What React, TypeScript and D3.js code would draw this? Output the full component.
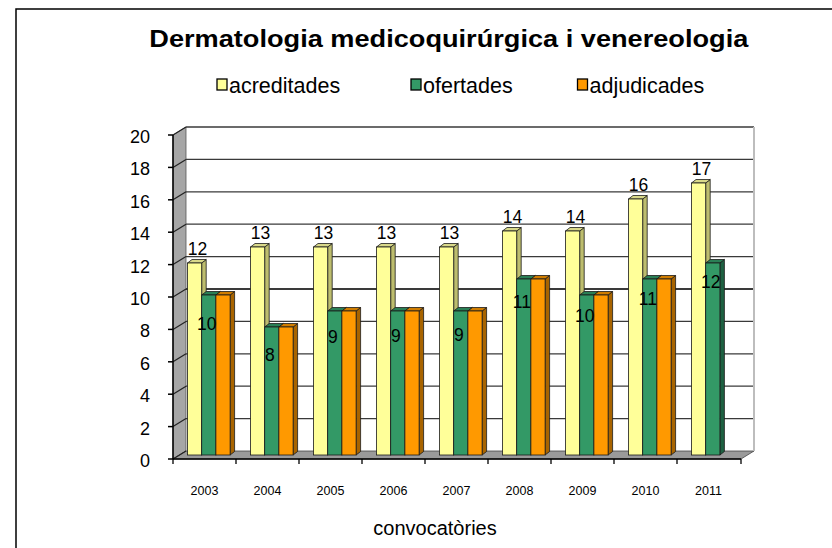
import React from "react";
import * as d3 from "d3";

const years = ["2003", "2004", "2005", "2006", "2007", "2008", "2009", "2010", "2011"];
const acreditades = [12, 13, 13, 13, 13, 14, 14, 16, 17];
const ofertades = [10, 8, 9, 9, 9, 11, 10, 11, 12];
const adjudicades: (number | null)[] = [10, 8, 9, 9, 9, 11, 10, 11, null];
const seriesNames = ["acreditades", "ofertades", "adjudicades"];
const yTicks = [0, 2, 4, 6, 8, 10, 12, 14, 16, 18, 20];

const FONT = "'Liberation Sans', Arial, sans-serif";

const palette = [
  { front: "#FFFF99", side: "#BDBD6E", top: "#D9D98A" },
  { front: "#339966", side: "#1E6142", top: "#2A7F55" },
  { front: "#FF9900", side: "#A86400", top: "#D07D00" },
];

export default function App() {
  const W = 832;
  const H = 548;
  const x = d3.scaleBand<string>().domain(years).range([173, 740]).paddingInner(0).paddingOuter(0);
  const yFront = d3.scaleLinear().domain([0, 20]).range([459, 135]);
  const yBack = d3.scaleLinear().domain([0, 20]).range([451, 127]);
  const yBar = d3.scaleLinear().domain([0, 20]).range([455, 135]);
  const DX = 13;
  const x0 = 173;
  const x1 = 741;
  const bw = 14.2;
  const bOff = 14.5;
  const bdx = 4.5;
  const bdy = 3.5;

  const all = [acreditades, ofertades, adjudicades];

  const bars: JSX.Element[] = [];
  years.forEach((yr, i) => {
    all.forEach((ser, k) => {
      const v = ser[i];
      if (v == null) return;
      const bx = (x(yr) as number) + bOff + k * bw;
      const top = yBar(v);
      const base = yBar(0);
      const c = palette[k];
      bars.push(
        <g key={`${yr}-${k}`}>
          <polygon
            points={`${bx + bw},${top} ${bx + bw + bdx},${top - bdy} ${bx + bw + bdx},${base - bdy} ${bx + bw},${base}`}
            fill={c.side}
            stroke="#1a1a1a"
            strokeWidth={0.8}
          />
          <polygon
            points={`${bx},${top} ${bx + bdx},${top - bdy} ${bx + bw + bdx},${top - bdy} ${bx + bw},${top}`}
            fill={c.top}
            stroke="#1a1a1a"
            strokeWidth={0.8}
          />
          <rect x={bx} y={top} width={bw} height={base - top} fill={c.front} stroke="#1a1a1a" strokeWidth={0.8} />
        </g>
      );
    });
  });

  const labels: JSX.Element[] = [];
  years.forEach((yr, i) => {
    const bxY = (x(yr) as number) + bOff;
    labels.push(
      <text key={`ly${i}`} x={bxY + bw / 2 + 3} y={yBar(acreditades[i]) - 8} textAnchor="middle" fontSize={17.5} fontFamily={FONT} fill="#000">
        {acreditades[i]}
      </text>
    );
    const bxG = (x(yr) as number) + bOff + bw;
    labels.push(
      <text key={`lg${i}`} x={bxG + bw / 2 - 2} y={yBar(ofertades[i]) + 35 - 1.3 * i} textAnchor="middle" fontSize={17.5} fontFamily={FONT} fill="#000">
        {ofertades[i]}
      </text>
    );
  });

  const legendX = [217, 411, 577.5];

  return (
    <svg width={W} height={H} style={{ position: "fixed", left: 0, top: 0, background: "#fff" }}>
      <rect x={0} y={0} width={W} height={H} fill="#fff" />
      <rect x={16} y={9} width={900} height={700} fill="none" stroke="#000" strokeWidth={1.5} />

      <text x={149.3} y={46.7} fontSize={24} fontWeight="bold" fontFamily={FONT} textLength={599} lengthAdjust="spacingAndGlyphs">
        Dermatologia medicoquirúrgica i venereologia
      </text>

      {seriesNames.map((s, k) => (
        <g key={s}>
          <rect x={legendX[k]} y={79} width={10} height={11} fill={palette[k].front} stroke="#000" strokeWidth={1.3} />
          <text x={legendX[k] + 12} y={92.7} fontSize={21.5} fontFamily={FONT} fill="#000">
            {s}
          </text>
        </g>
      ))}

      {/* back wall */}
      <rect x={x0 + DX} y={yBack(20)} width={x1 - x0} height={yBack(0) - yBack(20)} fill="#fff" />
      {/* side wall */}
      <polygon
        points={`${x0},${yFront(0)} ${x0},${yFront(20)} ${x0 + DX},${yBack(20)} ${x0 + DX},${yBack(0)}`}
        fill="#A6A6A6"
        stroke="#555"
        strokeWidth={0.8}
      />
      {/* floor */}
      <polygon
        points={`${x0},${yFront(0)} ${x1},${yFront(0)} ${x1 + DX},${yBack(0)} ${x0 + DX},${yBack(0)}`}
        fill="#9A9A9A"
        stroke="#444"
        strokeWidth={0.8}
      />
      {/* gridlines */}
      {yTicks.map((t) => (
        <g key={`g${t}`}>
          {t > 0 && (
            <line
              x1={x0 + DX}
              x2={x1 + DX}
              y1={yBack(t)}
              y2={yBack(t)}
              stroke="#3a3a3a"
              strokeWidth={t === 10 ? 2.2 : t === 20 ? 1.6 : 1.2}
            />
          )}
          <line x1={x0} x2={x0 + DX} y1={yFront(t)} y2={yBack(t)} stroke="#222" strokeWidth={1.2} />
        </g>
      ))}
      {/* right edge of back wall */}
      <line x1={x1 + DX} x2={x1 + DX} y1={yBack(20)} y2={yBack(0)} stroke="#BDBDBD" strokeWidth={2} />

      {/* y axis */}
      <line x1={x0} x2={x0} y1={yFront(20)} y2={yFront(0)} stroke="#000" strokeWidth={1.5} />
      {yTicks.map((t) => (
        <g key={`yt${t}`}>
          <line x1={x0 - 5} x2={x0} y1={yFront(t)} y2={yFront(t)} stroke="#000" strokeWidth={1.5} />
          <text x={150} y={yFront(t) + 8} textAnchor="end" fontSize={18} fontFamily={FONT} fill="#000">
            {t}
          </text>
        </g>
      ))}

      {/* x axis */}
      <line x1={x0} x2={x1} y1={yFront(0)} y2={yFront(0)} stroke="#000" strokeWidth={1.5} />
      {years.map((yr) => (
        <line key={`xt${yr}`} x1={x(yr) as number} x2={x(yr) as number} y1={yFront(0)} y2={yFront(0) + 5} stroke="#000" strokeWidth={1.3} />
      ))}
      <line x1={x1} x2={x1} y1={yFront(0)} y2={yFront(0) + 5} stroke="#000" strokeWidth={1.3} />
      {years.map((yr) => (
        <text key={`xl${yr}`} x={(x(yr) as number) + x.bandwidth() / 2} y={495} textAnchor="middle" fontSize={12.5} fontFamily={FONT} fill="#000">
          {yr}
        </text>
      ))}

      {bars}
      {labels}

      <text x={435} y={535} textAnchor="middle" fontSize={20} fontFamily={FONT} fill="#000">
        convocatòries
      </text>
    </svg>
  );
}
